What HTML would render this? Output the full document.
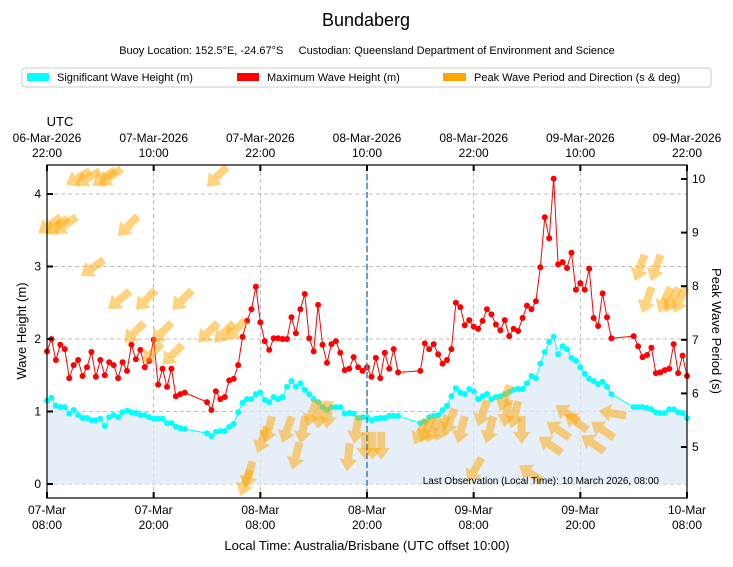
<!DOCTYPE html>
<html><head><meta charset="utf-8"><style>
body{margin:0;background:#fff;}
svg text{font-family:"Liberation Sans","DejaVu Sans",sans-serif;}
</style></head><body>
<svg id="chart" width="733" height="562" viewBox="0 0 733 562" xmlns="http://www.w3.org/2000/svg">
<text x="366" y="26" font-size="18" text-anchor="middle">Bundaberg</text>
<text x="367" y="54" font-size="11" text-anchor="middle" xml:space="preserve">Buoy Location: 152.5°E, -24.67°S     Custodian: Queensland Department of Environment and Science</text>
<g>
<rect x="22" y="68" width="689" height="19" rx="3" fill="#fff" stroke="#ccc"/>
<g><rect x="27" y="73" width="22" height="8" fill="#00ffff"/><text x="57" y="81" font-size="11">Significant Wave Height (m)</text></g>
<g><rect x="237" y="73" width="22" height="8" fill="#ff0000"/><text x="267" y="81" font-size="11">Maximum Wave Height (m)</text></g>
<g><rect x="443" y="73" width="23" height="8" fill="#ffa500"/><text x="474" y="81" font-size="11">Peak Wave Period and Direction (s &amp; deg)</text></g>
</g>
<text x="60" y="126" font-size="13" text-anchor="middle">UTC</text>
<g id="grid"></g>
<g id="plot"></g>
<g id="axes"></g>
<text x="659" y="484" font-size="10" text-anchor="end">Last Observation (Local Time): 10 March 2026, 08:00</text>
<text x="367" y="550" font-size="13" text-anchor="middle">Local Time: Australia/Brisbane (UTC offset 10:00)</text>
<text transform="translate(26,331) rotate(-90)" font-size="13" text-anchor="middle">Wave Height (m)</text>
<text transform="translate(712,331) rotate(90)" font-size="13" text-anchor="middle">Peak Wave Period (s)</text>
</svg>
<script>
// hours since 07-Mar 08:00 local
const hmaxTimes=[0,0.5,1,1.5,2,2.5,3,3.5,4,4.5,5,5.5,6,6.5,7,7.5,8,8.5,9,9.5,10,10.5,11,11.5,12,12.5,13,13.5,14,14.5,15,15.5,18,18.5,19,19.5,20,20.5,21,21.5,22,22.5,23,23.5,24,24.5,25,25.5,26,26.5,27,27.5,28,28.5,29,29.5,30,30.5,31,31.5,32,32.5,33,33.5,34,34.5,35,35.5,36,36.5,37,37.5,38,38.5,39,39.5,42,42.5,43,43.5,44,44.5,45,45.5,46,46.5,47,47.5,48,48.5,49,49.5,50,50.5,51,51.5,52,52.5,53,53.5,54,54.5,55,55.5,56,56.5,57,57.5,58,58.5,59,59.5,60,60.5,61,61.5,62,62.5,63,63.5,66,66.5,67,67.5,68,68.5,69,69.5,70,70.5,71,71.5,72];
const hmaxValues=[1.83,2.00,1.71,1.92,1.86,1.46,1.64,1.71,1.49,1.61,1.82,1.48,1.71,1.50,1.68,1.64,1.46,1.68,1.56,1.92,1.72,1.85,1.61,1.70,1.99,1.37,1.59,1.34,1.59,1.21,1.24,1.26,1.13,1.02,1.28,1.17,1.20,1.43,1.45,1.64,2.03,2.25,2.41,2.72,2.23,1.97,1.85,2.01,2.01,2.00,2.00,2.30,2.08,2.41,2.62,2.01,1.83,2.47,1.92,1.67,1.93,1.97,1.81,1.57,1.59,1.75,1.61,1.56,1.61,1.48,1.74,1.46,1.81,1.59,1.86,1.54,1.56,1.94,1.86,1.93,1.79,1.66,1.71,1.86,2.50,2.44,2.19,2.26,2.17,2.14,2.25,2.41,2.34,2.20,2.12,2.26,2.04,2.14,2.11,2.29,2.46,2.41,2.52,2.99,3.68,3.39,4.21,3.03,3.06,2.98,3.19,2.68,2.77,2.68,2.97,2.29,2.18,2.63,2.30,2.01,2.04,1.90,1.75,1.78,1.88,1.53,1.54,1.57,1.59,1.93,1.53,1.77,1.49];
const hsigTimes=hmaxTimes;
const hsigValues=[1.15,1.19,1.08,1.06,1.06,0.97,1.02,0.95,0.91,0.91,0.88,0.88,0.90,0.80,0.92,0.95,0.92,0.99,1.01,0.99,0.98,0.95,0.95,0.92,0.90,0.90,0.90,0.84,0.84,0.79,0.77,0.76,0.70,0.66,0.72,0.73,0.73,0.79,0.83,0.99,1.12,1.17,1.17,1.24,1.26,1.16,1.13,1.20,1.17,1.20,1.34,1.42,1.34,1.39,1.30,1.24,1.17,1.13,1.06,1.02,1.06,1.06,1.06,0.97,0.98,0.97,0.91,0.92,0.92,0.88,0.90,0.91,0.91,0.94,0.94,0.94,0.84,0.86,0.92,0.94,0.95,1.02,1.08,1.21,1.32,1.26,1.24,1.31,1.28,1.17,1.21,1.24,1.17,1.20,1.21,1.24,1.27,1.30,1.31,1.31,1.39,1.49,1.46,1.66,1.82,1.96,2.03,1.79,1.90,1.86,1.74,1.70,1.61,1.52,1.45,1.42,1.38,1.41,1.34,1.24,1.06,1.06,1.06,1.05,1.03,0.99,0.98,0.98,1.03,1.03,0.99,0.98,0.91];
const peakTimes=[3.5,4.6,6.4,7.1,19.1,0.3,1.1,2.0,9.1,5.1,8.1,11.1,15.2,9.8,12.9,18.1,19.9,21.2,11.8,14.1,22.3,22.7,24.2,24.9,27.0,28.0,28.8,29.8,30.7,31.6,33.9,34.8,35.8,36.6,37.6,42.0,42.7,43.4,44.4,45.3,46.6,48.1,49.0,49.8,51.5,51.7,52.6,53.4,54.4,56.6,57.5,58.5,59.5,61.4,62.5,63.6,66.7,68.5,67.5,69.5,70.3,71.2];
const peakPeriods=[10.02,10.02,10.02,10.04,10.04,9.14,9.12,9.14,9.12,8.34,7.74,7.74,7.74,7.13,7.13,7.13,7.13,7.18,6.75,6.72,4.33,4.48,5.13,5.32,5.32,4.83,5.32,5.63,5.60,5.60,4.81,5.32,5.02,5.02,5.02,5.28,5.32,5.32,5.35,5.47,5.32,4.57,5.63,5.32,5.91,5.63,5.60,5.32,4.51,5.04,5.32,5.63,5.47,5.07,5.32,5.63,8.34,8.34,7.74,7.74,7.74,7.74];
const peakDirections=[60,60,55,55,45,55,55,55,45,55,50,45,45,45,45,45,45,45,45,45,20,15,20,15,20,15,10,20,10,5,5,10,0,0,0,25,25,25,25,20,15,30,20,15,20,10,15,0,125,125,125,125,125,125,125,100,20,20,20,25,30,25];
const xTickHours=[0,12,24,36,48,60,72];
const xTickLocal=[["07-Mar","08:00"],["07-Mar","20:00"],["08-Mar","08:00"],["08-Mar","20:00"],["09-Mar","08:00"],["09-Mar","20:00"],["10-Mar","08:00"]];
const xTickUtc=[["06-Mar-2026","22:00"],["07-Mar-2026","10:00"],["07-Mar-2026","22:00"],["08-Mar-2026","10:00"],["08-Mar-2026","22:00"],["09-Mar-2026","10:00"],["09-Mar-2026","22:00"]];
const leftTicks=[0,1,2,3,4];
const rightTicks=[5,6,7,8,9,10];
const lastObsHour=36;

const L=47,R=687,T=165,B=498;
const xs=h=>L+(R-L)*h/72;
const yL=v=>484-72.5*v;
const yR=p=>447-53.6*(p-5);
const NS="http://www.w3.org/2000/svg";
function mk(tag,attrs,parent){const e=document.createElementNS(NS,tag);for(const k in attrs)e.setAttribute(k,attrs[k]);parent.appendChild(e);return e;}
const grid=document.getElementById('grid'),plot=document.getElementById('plot'),axes=document.getElementById('axes');

// gridlines
leftTicks.forEach(v=>{const g=mk('line',{x1:L,x2:R,y1:yL(v),y2:yL(v),stroke:'#aaa','stroke-dasharray':'4,3','stroke-width':0.8},grid);

});
xTickHours.forEach(h=>{const g=mk('line',{x1:xs(h),x2:xs(h),y1:T,y2:B,stroke:'#aaa','stroke-dasharray':'4,3','stroke-width':0.8},grid);

});

// area under hsig
let ad=`M${xs(hsigTimes[0])},${yL(0)}`;
hsigTimes.forEach((t,i)=>{ad+=`L${xs(t)},${yL(hsigValues[i])}`;});
ad+=`L${xs(hsigTimes[hsigTimes.length-1])},${yL(0)}Z`;
const area=mk('path',{d:ad,fill:'#dce8f3','fill-opacity':0.7},plot);



// series lines
function series(times,vals,color,name){
  const d=times.map((t,i)=>(i?'L':'M')+xs(t)+','+yL(vals[i])).join('');
  const p=mk('path',{d:d,fill:'none',stroke:color,'stroke-width':1},plot);
  
  
  times.forEach((t,i)=>{const c=mk('circle',{cx:xs(t),cy:yL(vals[i]),r:3,fill:color},plot);
  
  });
}
series(hsigTimes,hsigValues,'#00ffff','hsig');
series(hmaxTimes,hmaxValues,'#ff0000','hmax');

// peak arrows (pointing where waves go: from-direction + 180)
peakTimes.forEach((t,i)=>{
  const cx=xs(t),cy=yR(peakPeriods[i]);
  const ang=peakDirections[i]+180; // compass
  const rot=ang-90; // svg rotation for arrow drawn pointing +x
  const a=mk('path',{d:'M-14,-4 L2,-4 L2,-9 L14,0 L2,9 L2,4 L-14,4 Z',fill:'#ffa500','fill-opacity':0.5,transform:`translate(${cx},${cy}) rotate(${rot})`},plot);
  
  
});

// last obs line
const lo=mk('line',{x1:xs(lastObsHour),x2:xs(lastObsHour),y1:T,y2:B,stroke:'#4a86b8','stroke-width':1.6,'stroke-dasharray':'6,3'},plot);



// frame
const fr=mk('rect',{x:L,y:T,width:R-L,height:B-T,fill:'none',stroke:'#000','stroke-width':1.2},axes);


leftTicks.forEach(v=>{const y=yL(v);mk('line',{x1:L,x2:L+6,y1:y,y2:y,stroke:'#000','stroke-width':2},axes);
const tx=mk('text',{x:L-6,y:y+4,'font-size':12,'text-anchor':'end'},axes);tx.textContent=v;

});
rightTicks.forEach(v=>{const y=yR(v);mk('line',{x1:R-6,x2:R,y1:y,y2:y,stroke:'#000','stroke-width':2},axes);
const tx=mk('text',{x:R+5,y:y+4,'font-size':12},axes);tx.textContent=v;

});
xTickHours.forEach((h,i)=>{const x=xs(h);
mk('line',{x1:x,x2:x,y1:B-6,y2:B,stroke:'#000','stroke-width':2},axes);
mk('line',{x1:x,x2:x,y1:T,y2:T+6,stroke:'#000','stroke-width':2},axes);
const t1=mk('text',{x:x,y:514,'font-size':12,'text-anchor':'middle'},axes);t1.textContent=xTickLocal[i][0];


const t2=mk('text',{x:x,y:529,'font-size':12,'text-anchor':'middle'},axes);t2.textContent=xTickLocal[i][1];


const u1=mk('text',{x:x,y:142,'font-size':12,'text-anchor':'middle'},axes);u1.textContent=xTickUtc[i][0];


const u2=mk('text',{x:x,y:157,'font-size':12,'text-anchor':'middle'},axes);u2.textContent=xTickUtc[i][1];


});
</script>
</body></html>
